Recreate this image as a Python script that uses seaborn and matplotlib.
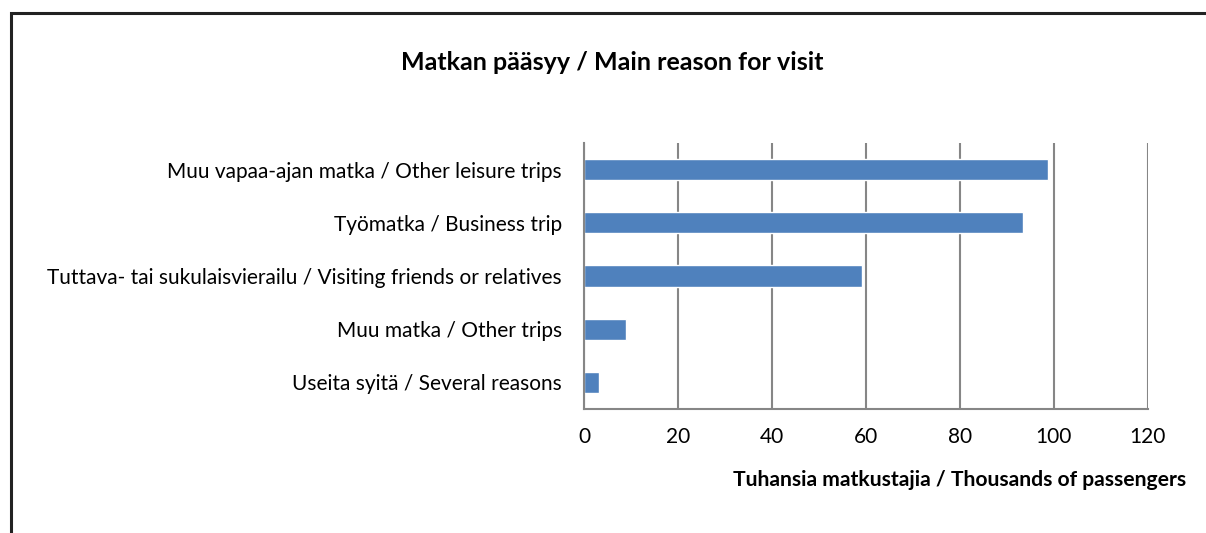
import matplotlib
matplotlib.use("Agg")
import matplotlib.pyplot as plt
import seaborn as sns
import pandas as pd
from matplotlib.patches import Rectangle

categories = [
    "Muu vapaa-ajan matka / Other leisure trips",
    "Työmatka / Business trip",
    "Tuttava- tai sukulaisvierailu / Visiting friends or relatives",
    "Muu matka / Other trips",
    "Useita syitä / Several reasons",
]
values = [98.8, 93.4, 59.1, 8.9, 3.2]
x_ticks = [0, 20, 40, 60, 80, 100, 120]

title = "Matkan pääsyy / Main reason for visit"
xlabel = "Tuhansia matkustajia / Thousands of passengers"

sns.set_theme(style="white")
plt.rcParams["font.family"] = ["Lato", "DejaVu Sans"]
plt.rcParams["text.color"] = "#000000"

W, H = 1206, 533
fig = plt.figure(figsize=(W / 100, H / 100), dpi=100)
ax = fig.add_axes([584.3 / W, 1 - 409 / H, (1147.7 - 584.3) / W, (409 - 143) / H])

df = pd.DataFrame({"cat": categories, "val": values})
sns.barplot(data=df, y="cat", x="val", color="#4F81BD", saturation=1,
            width=0.4, ax=ax, orient="h")

ax.set_xlim(0, 120)
ax.set_xticks(x_ticks)
ax.set_xticklabels([str(t) for t in x_ticks], fontsize=15, color="#000000")
ax.tick_params(axis="y", labelsize=15, colors="#000000", length=0, pad=16)
ax.tick_params(axis="x", length=0, pad=13)
ax.set_ylabel("")
ax.set_xlabel("")
for t in x_ticks:
    ax.axvline(t, color="#868686", lw=1.5, zorder=0)
for s in ["top", "right"]:
    ax.spines[s].set_visible(False)
ax.spines["left"].set_color("#868686")
ax.spines["left"].set_linewidth(1.5)
ax.spines["bottom"].set_color("#868686")
ax.spines["bottom"].set_linewidth(1.5)

fig.text(612 / W, 1 - 62 / H, title, ha="center", va="center",
         fontsize=18, fontweight="bold", color="#000000")
fig.text(1186 / W, 1 - 480 / H, xlabel, ha="right", va="center",
         fontsize=15.2, fontweight="bold", color="#000000")

fig.patches.append(Rectangle((10.5 / W, -0.1), 1.2, 1.1 - 12.5 / H,
                             transform=fig.transFigure, fill=False,
                             edgecolor="#222222", lw=2.2))

fig.savefig("out.png", dpi=100)
